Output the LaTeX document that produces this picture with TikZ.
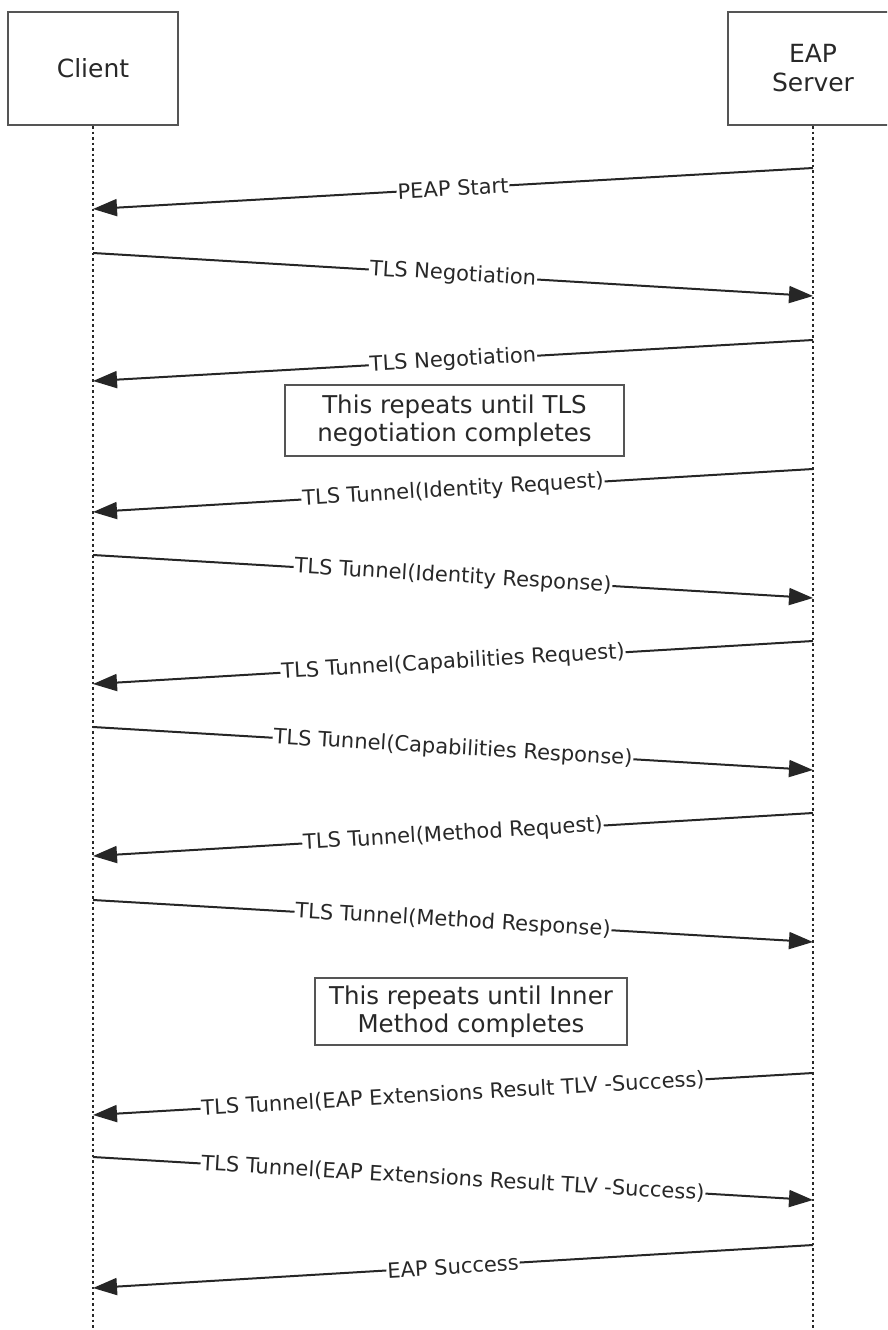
\documentclass[tikz,border=0pt]{standalone}
\usepackage{fontspec}
\setmainfont{DejaVu Sans}
\usetikzlibrary{arrows.meta}
\definecolor{ink}{RGB}{40,40,40}
\definecolor{edge}{RGB}{85,85,85}
\begin{document}
\begin{tikzpicture}[x=1pt,y=-1pt,
  actor/.style={draw=edge,line width=2.2pt,minimum width=170pt,minimum height=113pt,align=center,font=\fontsize{25}{29}\selectfont,text=ink,inner sep=0pt},
  note/.style={draw=edge,line width=2pt,align=center,font=\fontsize{24.5}{28.5}\selectfont,text=ink,inner sep=0pt},
  life/.style={draw=ink,line width=1.6pt,dash pattern=on 2.5pt off 3pt},
  msg/.style={draw=black!85,line width=2pt,-{Triangle[length=24pt,width=17pt]}},
  lbl/.style={fill=white,inner sep=1pt,font=\fontsize{21}{24}\selectfont,text=ink,sloped,pos=0.5}]
\useasboundingbox (0,0) rectangle (887,1330);
\clip (0,0) rectangle (887,1330);
\fill[white] (0,0) rectangle (887,1330);
% actors
\node[actor] (cb) at (93,68.5) {Client};
\node[actor] (sb) at (813,68.5) {EAP\\Server};
\coordinate (cend) at (93,1330);
\coordinate (send) at (813,1330);
\draw[life] (cb.south) -- (cend);
\draw[life] (sb.south) -- (send);
% message end points
\coordinate (m1a) at (813,168);  \coordinate (m1b) at (93,209);
\coordinate (m2a) at (93,253);   \coordinate (m2b) at (813,296);
\coordinate (m3a) at (813,340);  \coordinate (m3b) at (93,381);
\coordinate (m4a) at (813,469);  \coordinate (m4b) at (93,512);
\coordinate (m5a) at (93,555);   \coordinate (m5b) at (813,598);
\coordinate (m6a) at (813,641);  \coordinate (m6b) at (93,684);
\coordinate (m7a) at (93,727);   \coordinate (m7b) at (813,770);
\coordinate (m8a) at (813,813);  \coordinate (m8b) at (93,856);
\coordinate (m9a) at (93,900);   \coordinate (m9b) at (813,942);
\coordinate (m10a) at (813,1073); \coordinate (m10b) at (93,1115);
\coordinate (m11a) at (93,1157);  \coordinate (m11b) at (813,1200);
\coordinate (m12a) at (813,1245); \coordinate (m12b) at (93,1288);
% messages
\draw[msg] (m1a) -- node[lbl]{PEAP Start} (m1b);
\draw[msg] (m2a) -- node[lbl]{TLS Negotiation} (m2b);
\draw[msg] (m3a) -- node[lbl]{TLS Negotiation} (m3b);
\node[note,minimum width=339pt,minimum height=71pt] (n1) at (454.5,420.5) {This repeats until TLS\\negotiation completes};
\draw[msg] (m4a) -- node[lbl]{TLS Tunnel(Identity Request)} (m4b);
\draw[msg] (m5a) -- node[lbl]{TLS Tunnel(Identity Response)} (m5b);
\draw[msg] (m6a) -- node[lbl]{TLS Tunnel(Capabilities Request)} (m6b);
\draw[msg] (m7a) -- node[lbl]{TLS Tunnel(Capabilities Response)} (m7b);
\draw[msg] (m8a) -- node[lbl]{TLS Tunnel(Method Request)} (m8b);
\draw[msg] (m9a) -- node[lbl]{TLS Tunnel(Method Response)} (m9b);
\node[note,minimum width=312pt,minimum height=67pt] (n2) at (471,1011.5) {This repeats until Inner\\Method completes};
\draw[msg] (m10a) -- node[lbl]{TLS Tunnel(EAP Extensions Result TLV -Success)} (m10b);
\draw[msg] (m11a) -- node[lbl]{TLS Tunnel(EAP Extensions Result TLV -Success)} (m11b);
\draw[msg] (m12a) -- node[lbl]{EAP Success} (m12b);
\end{tikzpicture}
\end{document}
